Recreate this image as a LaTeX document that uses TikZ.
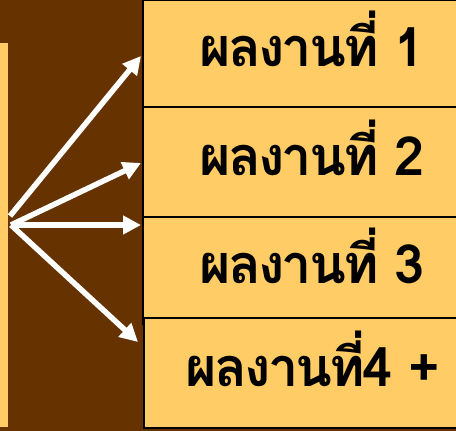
\documentclass[tikz,border=0pt]{standalone}
\usepackage{fontspec}
\newfontfamily\thaifont[Script=Thai, LetterSpace=-5]{Loma}
\usetikzlibrary{arrows.meta}
\definecolor{bgbrown}{HTML}{663300}
\definecolor{boxfill}{HTML}{FFCC66}

\begin{document}
\begin{tikzpicture}[x=1pt, y=-1pt,
  box/.style={rectangle, draw=black, line width=2pt, fill=boxfill, inner sep=0pt,
    minimum width=338pt, text height=38pt, text depth=12pt,
    font=\thaifont\bfseries\fontsize{54}{60}\selectfont},
  arr/.style={draw=white, line width=5.5pt, -{Triangle[length=18pt, width=18pt]}}]

  % Background and left strip
  \useasboundingbox (0,0) rectangle (456,431);
  \clip (0,0) rectangle (456,431);
  \fill[bgbrown] (0,0) rectangle (456,431);
  \fill[boxfill] (0,43) rectangle (8,427);

  % Boxes
  \node[box, minimum height=107pt] (B1) at (312,53.5) {ผลงานที่ 1};
  \node[box, minimum height=110pt] (B2) at (312,162) {ผลงานที่ 2};
  \node[box, minimum height=107pt] (B3) at (312,270.5) {ผลงานที่ 3};
  \node[box, minimum height=110pt] (B4) at (312.5,373) {ผลงานที่4 +};

  % Arrow ends
  \coordinate (src) at (11,225);
  \coordinate (src1) at (10,216);
  \coordinate (t1) at (141,56);
  \coordinate (t2) at (141,163);
  \coordinate (t3) at (141,225);
  \coordinate (t4) at (138,342);

  % Arrows
  \draw[arr] (src1) -- (t1);
  \foreach \i in {2,3,4} {
    \draw[arr] (src) -- (t\i);
  }

\end{tikzpicture}
\end{document}
